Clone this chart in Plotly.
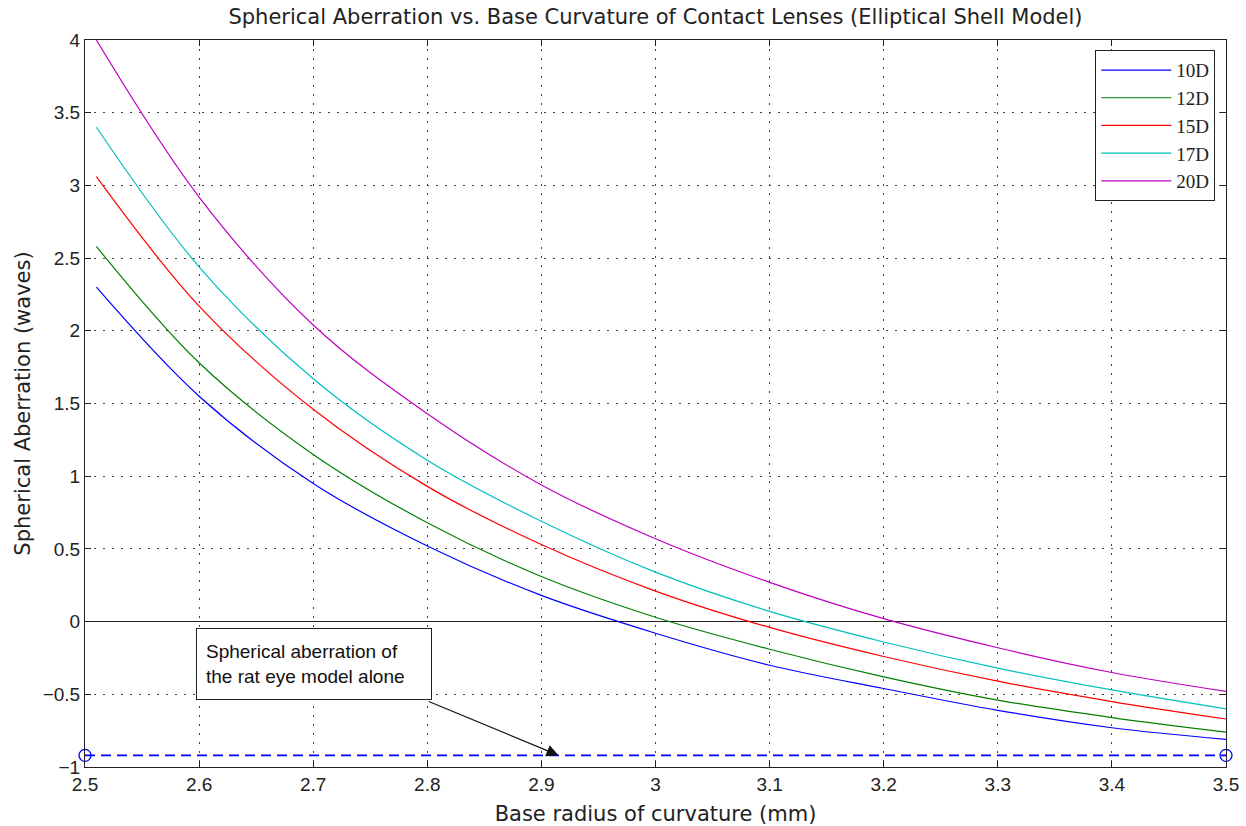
import plotly.graph_objects as go

radius = [2.51, 2.6, 2.7, 2.8, 2.9, 3.0, 3.1, 3.2, 3.3, 3.4, 3.5]
sa_10D = [2.30, 1.55, 0.95, 0.52, 0.18, -0.08, -0.30, -0.46, -0.61, -0.73, -0.81]
sa_12D = [2.58, 1.78, 1.15, 0.68, 0.31, 0.03, -0.19, -0.38, -0.54, -0.66, -0.76]
sa_15D = [3.06, 2.17, 1.46, 0.93, 0.53, 0.21, -0.04, -0.24, -0.41, -0.55, -0.67]
sa_17D = [3.40, 2.44, 1.67, 1.11, 0.69, 0.34, 0.07, -0.14, -0.32, -0.47, -0.60]
sa_20D = [4.00, 2.92, 2.04, 1.43, 0.94, 0.57, 0.27, 0.02, -0.18, -0.35, -0.48]

eye_x = [2.5, 3.5]
eye_y = [-0.92, -0.92]

series_names = ["10D", "12D", "15D", "17D", "20D"]
series_values = [sa_10D, sa_12D, sa_15D, sa_17D, sa_20D]
series_colors = ["#0000ff", "#008000", "#ff0000", "#00bfbf", "#bf00bf"]

fig = go.Figure()
for name, vals, col in zip(series_names, series_values, series_colors):
    fig.add_trace(go.Scatter(
        x=radius, y=vals, mode="lines", name=name, legendgroup=name,
        line=dict(color=col, width=1.2, shape="spline", smoothing=1.0),
    ))

fig.add_trace(go.Scatter(
    x=eye_x, y=eye_y, mode="lines+markers", showlegend=False,
    line=dict(color="#0000ff", width=1.6, dash="10px,6px"),
    marker=dict(symbol="circle-open", size=12, color="#0000ff", line=dict(width=1.3)),
    cliponaxis=False,
))

label_family = "DejaVu Sans, Verdana, sans-serif"
axis_font = dict(family="Liberation Sans, Arial, sans-serif", size=19, color="#222")
common = dict(
    showline=True, linecolor="#222", linewidth=1, mirror="allticks",
    ticks="inside", ticklen=6, tickcolor="#222", tickwidth=1,
    showgrid=True, gridcolor="#444", gridwidth=1, griddash="2px,7px",
    tickfont=axis_font, automargin=False,
)

fig.update_xaxes(range=[2.5, 3.5], dtick=0.1, tick0=2.5, zeroline=False,
                 title=dict(text="Base radius of curvature (mm)", font=dict(family=label_family, size=21, color="#222"), standoff=12),
                 **common)
fig.update_yaxes(range=[-1, 4], dtick=0.5, tick0=-1, zeroline=True, zerolinecolor="#222", zerolinewidth=1,
                 title=dict(text="Spherical Aberration (waves)", font=dict(family=label_family, size=21, color="#222"), standoff=6),
                 **common)

fig.add_annotation(
    x=2.7007, y=-0.291, xref="x", yref="y",
    text="Spherical aberration of<br>the rat eye model alone",
    showarrow=False, align="left", valign="middle",
    width=216, height=52, borderpad=9,
    bordercolor="#222", borderwidth=1, bgcolor="white",
    font=dict(family="Liberation Sans, Arial, sans-serif", size=19, color="#111"),
)
fig.add_annotation(
    x=2.915, y=-0.92, xref="x", yref="y",
    ax=2.8, ay=-0.545, axref="x", ayref="y",
    text="", showarrow=True, arrowhead=2, arrowsize=2, arrowwidth=1.2, arrowcolor="#111",
)

fig.update_layout(
    width=1246, height=826,
    margin=dict(l=85, r=20, t=40, b=59),
    paper_bgcolor="white", plot_bgcolor="white",
    title=dict(text="Spherical Aberration vs. Base Curvature of Contact Lenses (Elliptical Shell Model)",
               x=(85 + 1226) / 2 / 1246, xanchor="center", y=1 - 17 / 826, yanchor="middle",
               font=dict(family=label_family, size=21, color="#222")),
    legend=dict(
        x=0.9906, y=0.986, xanchor="right", yanchor="top",
        bordercolor="#222", borderwidth=1, bgcolor="white",
        font=dict(family="Liberation Serif, Times New Roman, serif", size=19, color="#222"),
        tracegroupgap=0, itemwidth=70,
    ),
    showlegend=True,
)

fig.write_html("out.html")
